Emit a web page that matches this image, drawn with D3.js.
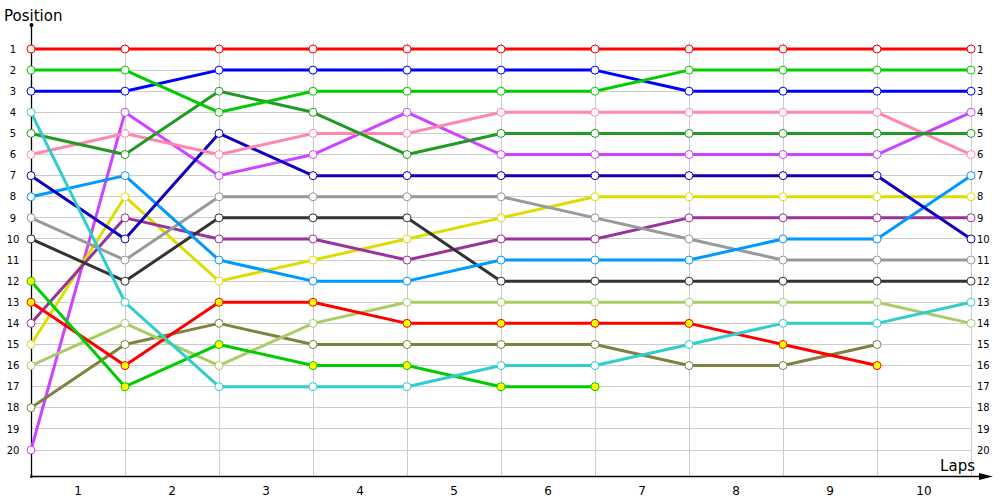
<!DOCTYPE html>
<html><head><meta charset="utf-8">
<script src="https://cdn.jsdelivr.net/npm/d3@7"></script>
<style>body{margin:0;background:#fff}svg{display:block}text{font-family:"DejaVu Sans",Verdana,sans-serif}</style>
</head><body><svg id="c" width="1000" height="500"></svg>
<script>
const laps = [0,1,2,3,4,5,6,7,8,9,10];
const lapLabels = ["1","2","3","4","5","6","7","8","9","10"];
const positions = d3.range(1,21);
const seriesNames = ["red","green","blue","cyan","darkgreen","pink","navy","skyblue","gray","darkgray","greenY","redY","purple","yellow","lightgreen","olive","magenta"];
const lineColors = ["#ff0000","#00cc00","#0000ff","#33cccc","#229922","#ff88aa","#1100bb","#0099ff","#999999","#333333","#00cc00","#ff0000","#993399","#dddd00","#aacc66","#808040","#cc44ff"];
const markerFills = ["#fff","#fff","#fff","#fff","#fff","#fff","#fff","#fff","#fff","#fff","#ffff00","#ffff00","#fff","#fff","#fff","#fff","#fff"];
const pRed = [1,1,1,1,1,1,1,1,1,1,1];
const pGreen = [2,2,4,3,3,3,3,2,2,2,2];
const pBlue = [3,3,2,2,2,2,2,3,3,3,3];
const pCyan = [4,13,17,17,17,16,16,15,14,14,13];
const pDarkGreen = [5,6,3,4,6,5,5,5,5,5,5];
const pPink = [6,5,6,5,5,4,4,4,4,4,6];
const pNavy = [7,10,5,7,7,7,7,7,7,7,10];
const pSkyBlue = [8,7,11,12,12,11,11,11,10,10,7];
const pGray = [9,11,8,8,8,8,9,10,11,11,11];
const pDarkGray = [10,12,9,9,9,12,12,12,12,12,12];
const pGreenY = [12,17,15,16,16,17,17];
const pRedY = [13,16,13,13,14,14,14,14,15,16];
const pPurple = [14,9,10,10,11,10,10,9,9,9,9];
const pYellow = [15,8,12,11,10,9,8,8,8,8,8];
const pLightGreen = [16,14,16,14,13,13,13,13,13,13,14];
const pOlive = [18,15,14,15,15,15,15,16,16,15];
const pMagenta = [20,4,7,6,4,6,6,6,6,6,4];
const allSeries = [pRed,pGreen,pBlue,pCyan,pDarkGreen,pPink,pNavy,pSkyBlue,pGray,pDarkGray,pGreenY,pRedY,pPurple,pYellow,pLightGreen,pOlive,pMagenta];

const svg = d3.select("#c");
const x = d3.scaleLinear().domain([0,10]).range([31,971]);
const y = d3.scaleLinear().domain([1,20]).range([49,450]);

// grid
const g = svg.append("g");
g.selectAll("line.h").data(positions).join("line")
  .attr("x1",x(0)).attr("x2",x(10)).attr("y1",d=>y(d)).attr("y2",d=>y(d))
  .attr("stroke","#cccccc").attr("stroke-width",1).attr("shape-rendering","crispEdges");
g.selectAll("line.v").data(laps.slice(1)).join("line")
  .attr("x1",d=>Math.round(x(d))+0.5).attr("x2",d=>Math.round(x(d))+0.5).attr("y1",43).attr("y2",476)
  .attr("stroke","#cccccc").attr("stroke-width",1);

// axes
const yAxisL = d3.axisLeft(y).tickValues(positions).tickSize(0).tickPadding(12);
const gl = svg.append("g").attr("transform","translate(31,0)").call(yAxisL);
gl.select(".domain").remove();
gl.selectAll("text").attr("font-size",10).attr("fill","#000").attr("text-anchor","middle").attr("dx",0).attr("x",-18);
const yAxisR = d3.axisRight(y).tickValues(positions).tickSize(0).tickPadding(6);
const gr = svg.append("g").attr("transform","translate(971,0)").call(yAxisR);
gr.select(".domain").remove();
gr.selectAll("text").attr("font-size",10).attr("fill","#000");

const xb = d3.scaleBand().domain(lapLabels).range([x(0),x(10)]);
const xAxis = d3.axisBottom(xb).tickSize(0).tickPadding(10);
const gx = svg.append("g").attr("transform","translate(0,476)").call(xAxis);
gx.select(".domain").remove();
gx.selectAll("text").attr("font-size",12).attr("fill","#000");

svg.append("line").attr("x1",31.5).attr("x2",31.5).attr("y1",25).attr("y2",476).attr("stroke","#000").attr("stroke-width",1.3);
svg.append("line").attr("x1",31).attr("x2",986).attr("y1",476.5).attr("y2",476.5).attr("stroke","#000").attr("stroke-width",1.3);
svg.append("path").attr("d","M979,473 L993,476.5 L979,480 Z").attr("fill","#000");
svg.append("circle").attr("cx",31.5).attr("cy",25).attr("r",2).attr("fill","#000");
svg.append("circle").attr("cx",31.5).attr("cy",476.5).attr("r",1.5).attr("fill","#000");

svg.append("text").attr("x",4).attr("y",21).attr("font-size",15).attr("fill","#000").text("Position");
svg.append("text").attr("x",975).attr("y",471).attr("text-anchor","end").attr("font-size",15).attr("fill","#000").text("Laps");

// series, drawn last-first
const line = d3.line().x((d,i)=>x(i)).y(d=>y(d));
for (let k = allSeries.length-1; k>=0; k--) {
  const s = allSeries[k];
  const sg = svg.append("g");
  sg.append("path").attr("d",line(s)).attr("fill","none").attr("stroke",lineColors[k]).attr("stroke-width",3).attr("stroke-linejoin","round");
  sg.selectAll("circle").data(s).join("circle")
    .attr("cx",(d,i)=>x(i)).attr("cy",d=>y(d)).attr("r",4)
    .attr("fill",markerFills[k]).attr("stroke",lineColors[k]).attr("stroke-width",1);
}
</script></body></html>
